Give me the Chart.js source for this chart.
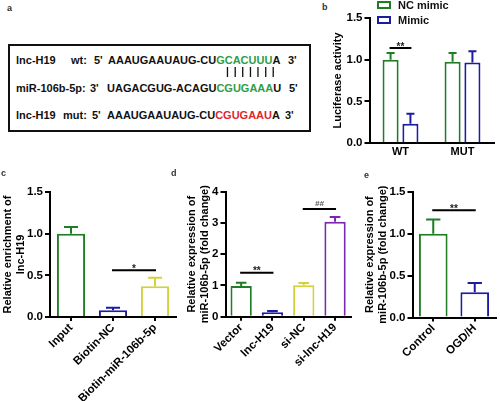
<!DOCTYPE html>
<html>
<head>
<meta charset="utf-8">
<script src="https://cdn.jsdelivr.net/npm/chart.js@4.4.1/dist/chart.umd.min.js"></script>
<style>
  body { margin: 0; background: #fff; width: 500px; height: 401px; position: relative; overflow: hidden;
         font-family: "Liberation Sans", Arial, sans-serif; }
  canvas { position: absolute; }
  .t { position: absolute; font-weight: bold; font-size: 11px; line-height: 12px; white-space: pre; color: #111; }
  .letra { position: absolute; font-weight: bold; font-size: 9px; color: #333; }
  .caja { position: absolute; left: 8px; top: 44px; width: 303px; height: 88px; border: 2px solid #111; box-sizing: border-box; }
  .verde { color: #2e9e46; }
  .rojo { color: #e0262c; }
  .cuadro { position: absolute; width: 14px; height: 8px; border: 2px solid; box-sizing: border-box; background: #fff; }
  .barras { will-change: transform; transform: translateZ(0); opacity: 0.99; }
</style>
</head>
<body>

<!-- a: secuencias -->
<div class="letra" style="left:7px;top:3px">a</div>
<div class="caja"></div>
<span class="t" style="left:16px;top:53.5px">lnc-H19</span>
<span class="t" style="left:71px;top:53.5px">wt:</span>
<span class="t" style="left:94px;top:53.5px">5'</span>
<span class="t" style="left:108px;top:53.5px">AAAUGAAUAUG-CU<span class="verde">GCACUUU</span>A</span>
<span class="t" style="left:288px;top:53.5px">3'</span>
<span class="t barras" style="left:226px;top:65px;font-size:10.5px;letter-spacing:4.7px">|||||||</span>
<span class="t" style="left:16px;top:81.5px">miR-106b-5p:</span>
<span class="t" style="left:90px;top:81.5px">3'</span>
<span class="t" style="left:107px;top:81.5px">UAGACGUG-ACAGU<span class="verde">CGUGAAA</span>U</span>
<span class="t" style="left:289px;top:81.5px">5'</span>
<span class="t" style="left:16px;top:108.5px">lnc-H19</span>
<span class="t" style="left:63px;top:108.5px">mut:</span>
<span class="t" style="left:92px;top:108.5px">5'</span>
<span class="t" style="left:107px;top:108.5px">AAAUGAAUAUG-CU<span class="rojo">CGUGAAU</span>A</span>
<span class="t" style="left:285px;top:108.5px">3'</span>

<canvas id="cb"></canvas>
<canvas id="cc"></canvas>
<canvas id="cd"></canvas>
<canvas id="ce"></canvas>

<div class="letra" style="left:322px;top:2px">b</div>
<div class="letra" style="left:1px;top:168px">c</div>
<div class="letra" style="left:171px;top:168px">d</div>
<div class="letra" style="left:364px;top:170px">e</div>

<!-- leyenda de b -->
<div class="cuadro" style="left:377px;top:1px;border-color:#1f7d24"></div>
<span class="t" style="left:398px;top:-1.5px">NC mimic</span>
<div class="cuadro" style="left:377px;top:16px;border-color:#1c1ca3"></div>
<span class="t" style="left:398px;top:13.5px">Mimic</span>

<script>
// ── Datos ──────────────────────────────────────────────
const VERDE = '#1f7d24', AZUL = '#1c1ca3', AMARILLO = '#d2d23a', MORADO = '#7b27b3';

// b: luciferasa
const catB = ['WT', 'MUT'];
const ncMimic = [1.0, 0.975];
const ncMimicErr = [0.08, 0.105];
const mimic = [0.23, 0.965];
const mimicErr = [0.12, 0.135];
const sigB = [{ from: [0, 0], to: [1, 0], y: 1.14, text: '**' }];

// c: enriquecimiento
const catC = ['Input', 'Biotin-NC', 'Biotin-miR-106b-5p'];
const valC = [1.0, 0.08, 0.37];
const errC = [0.08, 0.03, 0.10];
const sigC = [{ from: [0, 1], to: [0, 2], y: 0.56, text: '*' }];

// d: expresión tras sobreexpresión / silenciamiento
const catD = ['Vector', 'lnc-H19', 'si-NC', 'si-lnc-H19'];
const valD = [0.98, 0.14, 1.01, 3.04];
const errD = [0.11, 0.04, 0.07, 0.15];
const sigD = [
  { from: [0, 0], to: [0, 1], y: 1.41, text: '**' },
  { from: [0, 2], to: [0, 3], y: 3.45, text: '##' },
];

// e: OGD/H
const catE = ['Control', 'OGD/H'];
const valE = [1.0, 0.30];
const errE = [0.17, 0.11];
const sigE = [{ from: [0, 0], to: [0, 1], y: 1.28, text: '**' }];

// ── Dibujo ─────────────────────────────────────────────
const FAMILIA = '"Liberation Sans", Arial, sans-serif';
const FUENTE = { family: FAMILIA, size: 11, weight: 'bold' };
const FUENTE_Y = { family: FAMILIA, size: 11.5, weight: 'bold' };
const FUENTE_GIRADA = { family: FAMILIA, size: 11.5, weight: 'bold' };

/* Barras de error (solo hacia arriba) y líneas de significancia, como en Prism. */
function extras(sig) {
  return {
    id: 'extras',
    afterDatasetsDraw(chart) {
      const ctx = chart.ctx, y = chart.scales.y;
      ctx.save();
      ctx.lineWidth = 2;
      chart.data.datasets.forEach((ds, di) => {
        chart.getDatasetMeta(di).data.forEach((bar, i) => {
          const tope = y.getPixelForValue(ds.data[i] + ds.err[i]);
          const m = bar.width / 4;
          ctx.strokeStyle = Array.isArray(ds.borderColor) ? ds.borderColor[i] : ds.borderColor;
          ctx.beginPath();
          ctx.moveTo(bar.x, bar.y);
          ctx.lineTo(bar.x, tope);
          ctx.moveTo(bar.x - m, tope);
          ctx.lineTo(bar.x + m, tope);
          ctx.stroke();
        });
      });
      sig.forEach((s) => {
        const a = chart.getDatasetMeta(s.from[0]).data[s.from[1]];
        const b = chart.getDatasetMeta(s.to[0]).data[s.to[1]];
        const py = y.getPixelForValue(s.y);
        ctx.strokeStyle = '#000';
        ctx.beginPath();
        ctx.moveTo(a.x - 1, py);
        ctx.lineTo(b.x + 1, py);
        ctx.stroke();
        const almohadilla = s.text.includes('#');
        ctx.fillStyle = almohadilla ? '#555' : '#222';
        ctx.font = almohadilla ? 'italic bold 8px ' + FAMILIA : 'bold 10px ' + FAMILIA;
        ctx.textAlign = 'center';
        ctx.textBaseline = 'alphabetic';
        ctx.fillText(s.text, (a.x + b.x) / 2, almohadilla ? py - 3 : py + 1.5);
      });
      ctx.restore();
    },
  };
}

function panel(id, caja, area, etiquetas, series, yMax, paso, titulo, girar, sig, marcasX) {
  const lienzo = document.getElementById(id);
  lienzo.width = caja.w; lienzo.height = caja.h;
  lienzo.style.left = caja.x + 'px'; lienzo.style.top = caja.y + 'px';
  return new Chart(lienzo, {
    type: 'bar',
    data: { labels: etiquetas, datasets: series },
    options: {
      responsive: false,
      animation: false,
      layout: { padding: { top: area.top - caja.y, right: caja.x + caja.w - area.right, bottom: 0, left: 0 } },
      plugins: { legend: { display: false }, tooltip: { enabled: false } },
      scales: {
        x: {
          afterFit: (s) => { s.height = caja.y + caja.h - area.bottom; },
          grid: { display: true, drawOnChartArea: false, drawTicks: marcasX, tickLength: 4, offset: false, lineWidth: 2, color: '#000' },
          border: { color: '#000', width: 2 },
          ticks: { font: girar ? FUENTE_GIRADA : FUENTE, color: '#000', autoSkip: false,
                   minRotation: girar, maxRotation: girar, padding: girar ? 0 : 2 },
        },
        y: {
          min: 0, max: yMax,
          afterFit: (s) => { s.width = area.left - caja.x; },
          grid: { display: true, drawOnChartArea: false, drawTicks: true, tickLength: 5, lineWidth: 2, color: '#000' },
          border: { color: '#000', width: 2 },
          ticks: { stepSize: paso, font: FUENTE_Y, color: '#000', padding: 2,
                   callback: (v) => (paso < 1 ? v.toFixed(1) : v) },
          title: { display: true, text: titulo, font: FUENTE, color: '#000', padding: { top: 0, bottom: 4 } },
        },
      },
    },
    plugins: [extras(sig)],
  });
}

function serie(valores, errores, color, anchoBarra, anchoCat) {
  return {
    data: valores, err: errores,
    backgroundColor: '#fff', borderColor: color, borderWidth: 2,
    barPercentage: anchoBarra, categoryPercentage: anchoCat,
  };
}

panel('cb', { x: 331, y: 0, w: 169, h: 190 }, { left: 369.5, right: 493.5, top: 18, bottom: 143 },
  catB, [serie(ncMimic, ncMimicErr, VERDE, 0.81, 0.64), serie(mimic, mimicErr, AZUL, 0.81, 0.64)],
  1.5, 0.5, 'Luciferase activity', 0, sigB, false);

panel('cc', { x: 1, y: 170, w: 180, h: 231 }, { left: 50, right: 176, top: 192, bottom: 317 },
  catC, [serie(valC, errC, [VERDE, AZUL, AMARILLO], 0.67, 1)],
  1.5, 0.5, ['Relative enrichment of', 'lnc-H19'], 45, sigC, true);

panel('cd', { x: 185, y: 170, w: 171, h: 231 }, { left: 225.5, right: 350.7, top: 191.7, bottom: 316.7 },
  catD, [serie(valD, errD, [VERDE, AZUL, AMARILLO, MORADO], 0.68, 1)],
  4, 1, ['Relative expression of', 'miR-106b-5p (fold change)'], 45, sigD, true);

panel('ce', { x: 363, y: 170, w: 137, h: 231 }, { left: 412.5, right: 495.5, top: 191.7, bottom: 317.5 },
  catE, [serie(valE, errE, [VERDE, AZUL], 0.69, 1)],
  1.5, 0.5, ['Relative expression of', 'miR-106b-5p (fold change)'], 45, sigE, true);
</script>
</body>
</html>
